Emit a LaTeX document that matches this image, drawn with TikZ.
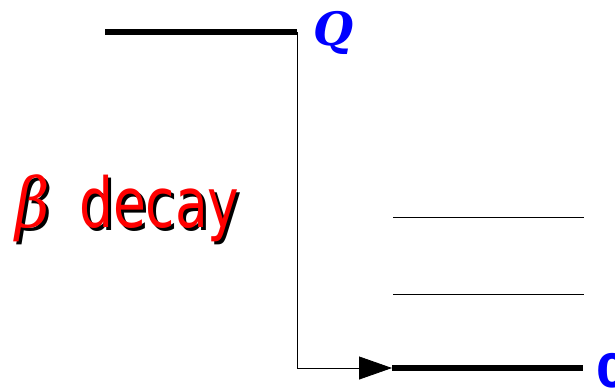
\documentclass[tikz,border=0pt]{standalone}
\usepackage{fontspec}
\setmainfont{DejaVu Sans}
\newfontfamily\condsans{DejaVu Sans Condensed}
\newfontfamily\labelserif{DejaVu Serif}
\usetikzlibrary{arrows.meta}
\definecolor{qblue}{RGB}{0,0,255}
\tikzset{
  level/.style={line width=6pt},
  sublevel/.style={line width=0.8pt},
  flow/.style={line width=0.8pt},
  energy/.style={text=qblue, font=\bfseries, inner sep=0pt},
  titletext/.style={inner sep=0pt, font=\condsans\fontsize{69}{69}\selectfont, xscale=0.86},
}
\newcommand{\betadecay}{{\labelserif\itshape β}\hspace{0.5em}decay}
\begin{document}
\begin{tikzpicture}[x=1pt,y=-1pt]
\useasboundingbox (0,0) rectangle (615,389);
% parent level
\coordinate (qL) at (105,32);
\coordinate (qR) at (297,32);
\draw[level] (qL) -- (qR);
\node[energy, font=\labelserif\bfseries\itshape\fontsize{46}{46}\selectfont] (q) at (334,33) {Q};
% excited levels of the daughter
\coordinate (e1L) at (393,217); \coordinate (e1R) at (584,217);
\coordinate (e2L) at (393,294); \coordinate (e2R) at (584,294);
\draw[sublevel] (e1L) -- (e1R);
\draw[sublevel] (e2L) -- (e2R);
% ground state
\coordinate (gL) at (392,368);
\coordinate (gR) at (583,368);
\draw[level] (gL) -- (gR);
\node[energy, font=\bfseries\fontsize{46}{46}\selectfont, anchor=west] (zero) at (596,371) {0};
% decay path
\coordinate (bend) at (297,368);
\draw[flow, -{Triangle[length=33pt,width=23pt]}] (qR) -- (bend) -- (gL);
% title with drop shadow
\node[titletext, text=black, anchor=base west] (shadow) at (18,230) {\betadecay};
\node[titletext, text=red, anchor=base west] (title) at (15,227) {\betadecay};
\end{tikzpicture}
\end{document}
